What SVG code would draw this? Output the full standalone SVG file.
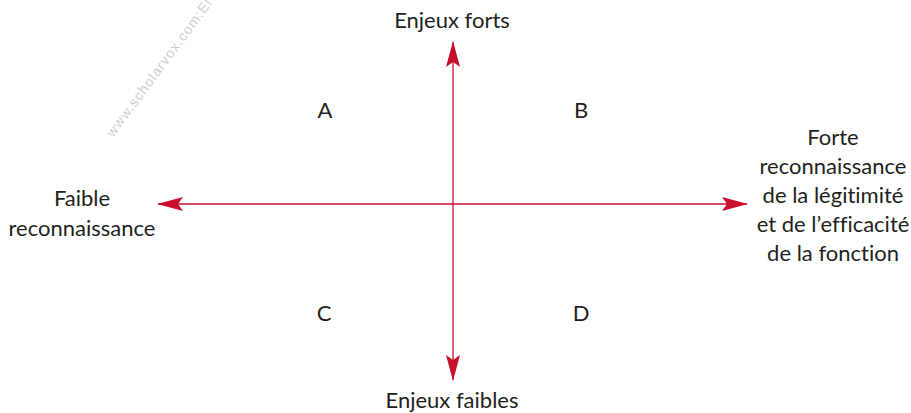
<svg xmlns="http://www.w3.org/2000/svg" width="911" height="413" viewBox="0 0 911 413">
<style>
.t{font-family:Lato,"Open Sans","Liberation Sans",sans-serif;font-size:22px;fill:#231f20;text-anchor:middle;font-variant-ligatures:none}
.ax{stroke:#c8102e;stroke-width:1.3;fill:none}
.wm{font-family:"Liberation Sans",sans-serif;font-size:14px;letter-spacing:1px;fill:#cfcfcf}
</style>
<defs>
<marker id="ah" viewBox="0 0 26 14" refX="25" refY="7" markerWidth="26" markerHeight="14" markerUnits="userSpaceOnUse" orient="auto-start-reverse">
<path d="M0,0 L26,7 L0,14 L5,7 Z" fill="#c8102e"/>
</marker>
</defs>
<rect width="911" height="413" fill="#fff"/>
<text class="wm" transform="translate(113,138) rotate(-53.5)">www.scholarvox.com:EN</text>
<g id="connectors">
<line class="ax" x1="453" y1="42" x2="453" y2="380" marker-start="url(#ah)" marker-end="url(#ah)"/>
<line class="ax" x1="158" y1="204" x2="747" y2="204" marker-start="url(#ah)" marker-end="url(#ah)"/>
</g>
<g id="top"><text class="t" x="452" y="28">Enjeux forts</text></g>
<g id="bottom"><text class="t" x="452" y="408">Enjeux faibles</text></g>
<g id="left"><text class="t" x="82" y="206">Faible</text><text class="t" x="82" y="236">reconnaissance</text></g>
<g id="right">
<text class="t" x="833" y="145">Forte</text>
<text class="t" x="833" y="174">reconnaissance</text>
<text class="t" x="833" y="203">de la légitimité</text>
<text class="t" x="833" y="232">et de l’efficacité</text>
<text class="t" x="833" y="261">de la fonction</text>
</g>
<g id="qA"><text class="t" x="325" y="118">A</text></g>
<g id="qB"><text class="t" x="581" y="118">B</text></g>
<g id="qC"><text class="t" x="324" y="321">C</text></g>
<g id="qD"><text class="t" x="581" y="321">D</text></g>
</svg>
